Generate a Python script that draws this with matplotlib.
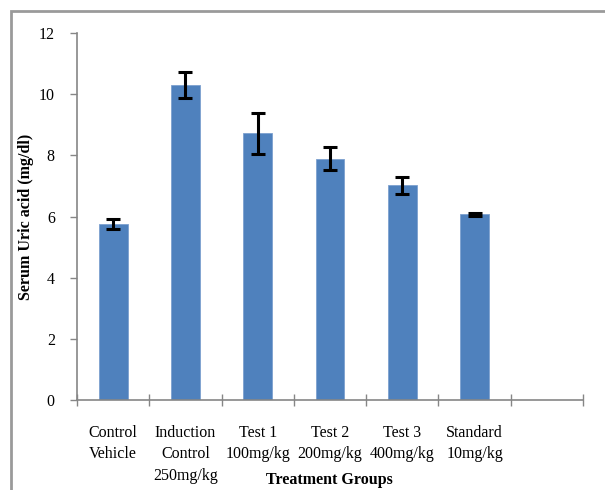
import matplotlib
matplotlib.use("Agg")
import matplotlib.pyplot as plt
import matplotlib.patches as mpatches
import numpy as np

# data
groups = ["Control\nVehicle", "Induction\nControl\n250mg/kg", "Test 1\n100mg/kg",
          "Test 2\n200mg/kg", "Test 3\n400mg/kg", "Standard\n10mg/kg"]
uric_acid = [5.75, 10.31, 8.72, 7.89, 7.02, 6.08]
err = [0.16, 0.43, 0.68, 0.37, 0.27, 0.05]

plt.rcParams['font.family'] = ['Liberation Serif', 'DejaVu Serif']

fig = plt.figure(figsize=(6.05, 4.9), dpi=100)
ax = fig.add_axes([77/605, 90/490, 506/605, 367/490])

# outer frame of the chart area
fig.patches.append(mpatches.Rectangle((11/605, -0.1), 1.2, (479/490) + 0.1,
                                      transform=fig.transFigure, fill=False,
                                      edgecolor='#9a9a9a', linewidth=2))

x = np.arange(len(groups)) + 0.5
ax.bar(x, uric_acid, width=0.4, color='#4f81bd', edgecolor='#7da0cf', linewidth=0.6,
       yerr=err, error_kw=dict(ecolor='black', elinewidth=2.2, capsize=5, capthick=2.2))

ax.set_xlim(0, 7)
ax.set_ylim(0, 12)
ax.set_yticks(range(0, 13, 2))
ax.set_xticks(range(0, 8))
ax.set_xticklabels([])
ax.set_xticks(x, minor=True)
ax.set_xticklabels(groups, minor=True, fontsize=11.5, linespacing=1.45)
ax.tick_params(axis='x', which='minor', length=0, pad=18)
ax.tick_params(axis='x', which='major', direction='inout', length=8, color='#868686', width=1)
ax.tick_params(axis='y', direction='out', length=5, color='#868686', width=1,
               labelsize=11.5, pad=11)

for s in ['top', 'right']:
    ax.spines[s].set_visible(False)
for s in ['left', 'bottom']:
    ax.spines[s].set_color('#868686')
    ax.spines[s].set_linewidth(1.2)

ax.set_ylabel("Serum Uric acid (mg/dl)", fontsize=11.5, fontweight='bold', va='center')
ax.yaxis.set_label_coords(-51/506, 0.5)
ax.set_xlabel("Treatment Groups", fontsize=11.5, fontweight='bold', va='center')
ax.xaxis.set_label_coords(0.498, -80/367)

fig.savefig("out.png", dpi=100)
